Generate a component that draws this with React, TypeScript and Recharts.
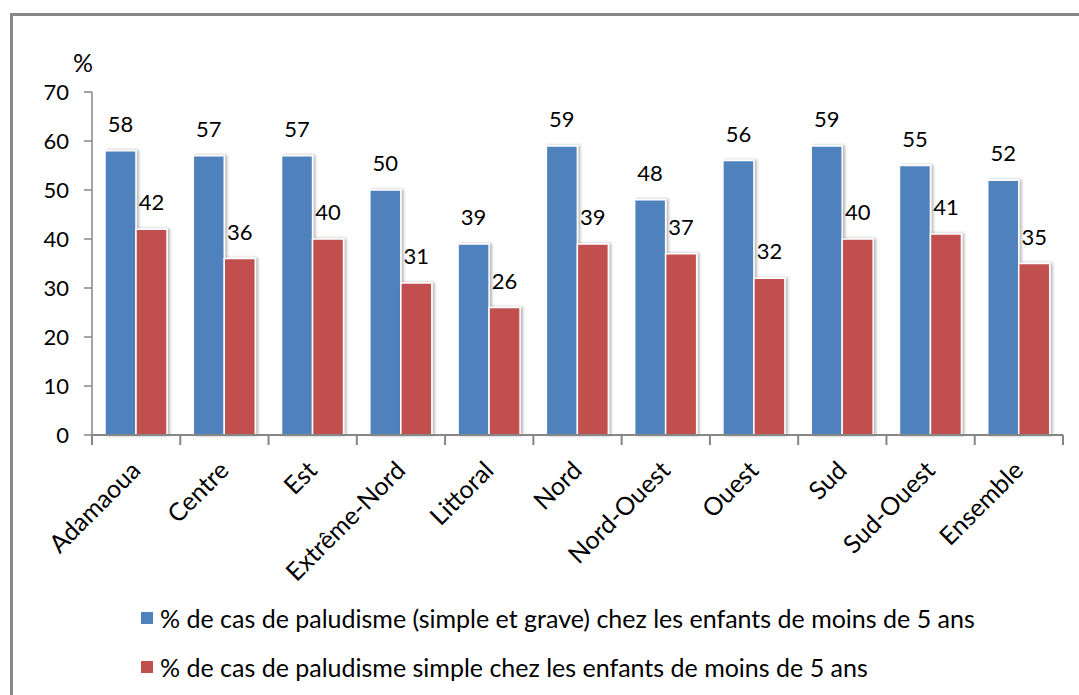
import React from 'react';
import { BarChart, Bar, XAxis, YAxis, LabelList, Legend } from 'recharts';

const categories = ['Adamaoua', 'Centre', 'Est', 'Extrême-Nord', 'Littoral', 'Nord', 'Nord-Ouest', 'Ouest', 'Sud', 'Sud-Ouest', 'Ensemble'];
const totalCases = [58, 57, 57, 50, 39, 59, 48, 56, 59, 55, 52];
const simpleCases = [42, 36, 40, 31, 26, 39, 37, 32, 40, 41, 35];
const yTicks = [0, 10, 20, 30, 40, 50, 60, 70];
const seriesNames = [
  '% de cas de paludisme (simple et grave) chez les enfants de moins de 5 ans',
  '% de cas de paludisme simple chez les enfants de moins de 5 ans',
];
const seriesColors = ['#4F81BD', '#C0504D'];

const data = categories.map((c, i) => ({ name: c, total: totalCases[i], simple: simpleCases[i] }));

const FONT = 'Lato, "Open Sans", sans-serif';
const AXIS = '#868686';

const XTick = (props: any) => {
  const { x, y, payload, index, visibleTicksCount } = props;
  const half = payload && typeof payload.offset === 'number' ? payload.offset : 44;
  const last = index === (visibleTicksCount ?? categories.length) - 1;
  const ax = x + 6;
  const ay = y + 37;
  return (
    <g>
      <line x1={x - half} x2={x - half} y1={y} y2={y + 10} stroke={AXIS} strokeWidth={2} />
      {last && <line x1={x + half} x2={x + half} y1={y} y2={y + 10} stroke={AXIS} strokeWidth={2} />}
      <text
        x={ax}
        y={ay}
        textAnchor="end"
        transform={`rotate(-45, ${ax}, ${ay})`}
        fontSize={25}
        fontFamily={FONT}
        fill="#000"
      >
        {payload.value}
      </text>
    </g>
  );
};

const LegendContent = () => (
  <div style={{ fontFamily: FONT, fontSize: 25, color: '#000' }}>
    {seriesNames.map((n, i) => (
      <div key={n} style={{ display: 'flex', alignItems: 'center', height: 49, whiteSpace: 'nowrap' }}>
        <span style={{ display: 'inline-block', width: 12, height: 12, background: seriesColors[i], marginRight: 7 }} />
        <span>{n}</span>
      </div>
    ))}
  </div>
);

const PercentLabel = (props: any) => {
  const vb = props.viewBox || {};
  return (
    <text x={vb.x + vb.width - 9} y={vb.y - 20} textAnchor="middle" fontSize={25} fontFamily={FONT} fill="#000">
      %
    </text>
  );
};

export default function App() {
  return (
    <div style={{ position: 'fixed', left: 0, top: 0, width: 1079, height: 695, overflow: 'hidden', background: '#fff' }}>
      <div
        style={{
          position: 'absolute',
          left: 10,
          top: 13,
          width: 1200,
          height: 800,
          border: '3px solid #888888',
          boxSizing: 'border-box',
        }}
      />
      <div style={{ position: 'absolute', left: 0, top: 0 }}>
        <BarChart
          width={1079}
          height={695}
          data={data}
          margin={{ top: 92, right: 16, bottom: 0, left: 0 }}
          barGap={0}
          barCategoryGap={13}
        >
          <defs>
            <filter id="barShadow" x="-20%" y="-5%" width="140%" height="110%">
              <feDropShadow dx="2" dy="0" stdDeviation="1.5" floodColor="#000" floodOpacity="0.3" />
            </filter>
          </defs>
          <YAxis
            width={92}
            domain={[0, 70]}
            ticks={yTicks}
            interval={0}
            tickSize={8}
            tickMargin={15}
            axisLine={{ stroke: AXIS, strokeWidth: 1.5 }}
            tickLine={{ stroke: AXIS, strokeWidth: 1.5 }}
            tick={{ fontSize: 22, fontFamily: FONT, fill: '#000' }}
            label={<PercentLabel />}
          />
          <XAxis
            dataKey="name"
            height={260}
            interval={0}
            tickSize={0}
            tickMargin={0}
            tickLine={false}
            axisLine={{ stroke: AXIS, strokeWidth: 2 }}
            tick={<XTick />}
          />
          <Legend
            layout="horizontal"
            verticalAlign="middle"
            align="center"
            content={<LegendContent />}
            wrapperStyle={{ position: 'absolute', top: 593, left: 141, width: 930 }}
          />
          <Bar dataKey="total" name={seriesNames[0]} fill={seriesColors[0]} stroke="#fff" strokeWidth={1.5} barSize={31} filter="url(#barShadow)" isAnimationActive={false}>
            <LabelList dataKey="total" position="top" offset={19} fontSize={22} fontFamily={FONT} fill="#000" />
          </Bar>
          <Bar dataKey="simple" name={seriesNames[1]} fill={seriesColors[1]} stroke="#fff" strokeWidth={1.5} barSize={31} filter="url(#barShadow)" isAnimationActive={false}>
            <LabelList dataKey="simple" position="top" offset={19} fontSize={22} fontFamily={FONT} fill="#000" />
          </Bar>
        </BarChart>
      </div>
    </div>
  );
}
